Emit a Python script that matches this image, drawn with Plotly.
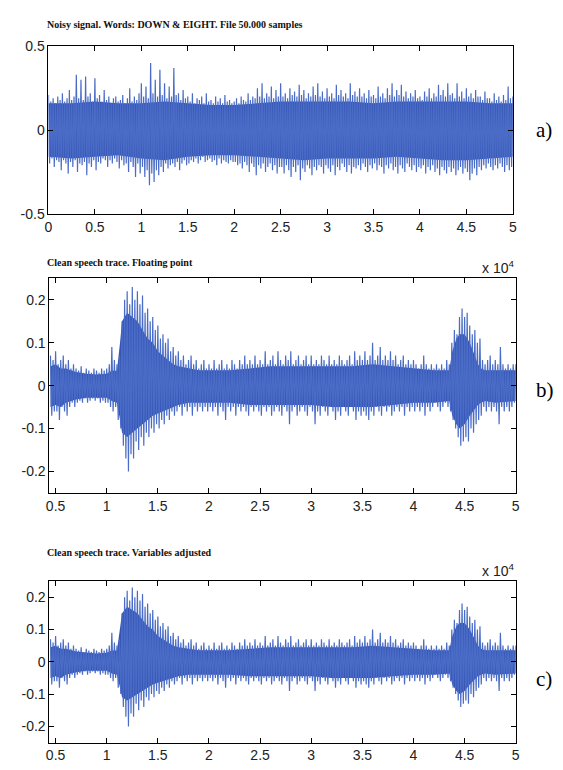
import numpy as np
import plotly.graph_objects as go

# ---------------- data ----------------
# Peak envelopes sampled every 0.025 s; each row of 20 values covers 0.5 s.
STEP = 0.025

# Panel a: noisy signal, t = 0 ... 5
a_start = 0.0
a_upper = (
    [0.21, 0.17, 0.19, 0.16, 0.20, 0.18, 0.22, 0.17, 0.19, 0.24, 0.18, 0.20, 0.33, 0.19, 0.30, 0.18, 0.32, 0.20, 0.22, 0.17] +
    [0.31, 0.19, 0.21, 0.17, 0.24, 0.18, 0.20, 0.16, 0.19, 0.20, 0.17, 0.18, 0.21, 0.16, 0.19, 0.25, 0.17, 0.20, 0.18, 0.22] +
    [0.28, 0.20, 0.26, 0.19, 0.40, 0.22, 0.30, 0.20, 0.36, 0.21, 0.28, 0.19, 0.26, 0.20, 0.37, 0.21, 0.22, 0.18, 0.24, 0.19] +
    [0.20, 0.17, 0.22, 0.16, 0.19, 0.18, 0.20, 0.16, 0.22, 0.17, 0.18, 0.16, 0.20, 0.17, 0.19, 0.16, 0.21, 0.17, 0.18, 0.16] +
    [0.17, 0.19, 0.16, 0.20, 0.18, 0.17, 0.22, 0.18, 0.20, 0.19, 0.25, 0.20, 0.28, 0.19, 0.22, 0.20, 0.26, 0.19, 0.24, 0.20] +
    [0.28, 0.20, 0.22, 0.19, 0.25, 0.21, 0.23, 0.20, 0.27, 0.21, 0.24, 0.19, 0.22, 0.20, 0.26, 0.21, 0.28, 0.20, 0.23, 0.19] +
    [0.25, 0.20, 0.22, 0.19, 0.27, 0.21, 0.24, 0.20, 0.22, 0.19, 0.28, 0.21, 0.23, 0.20, 0.25, 0.20, 0.22, 0.19, 0.24, 0.20] +
    [0.21, 0.19, 0.26, 0.20, 0.22, 0.19, 0.25, 0.21, 0.28, 0.20, 0.24, 0.21, 0.27, 0.20, 0.23, 0.19, 0.22, 0.20, 0.24, 0.19] +
    [0.20, 0.18, 0.23, 0.20, 0.25, 0.19, 0.22, 0.20, 0.27, 0.21, 0.24, 0.20, 0.28, 0.21, 0.22, 0.19, 0.28, 0.20, 0.23, 0.19] +
    [0.25, 0.20, 0.22, 0.19, 0.24, 0.20, 0.20, 0.18, 0.23, 0.19, 0.19, 0.17, 0.22, 0.18, 0.20, 0.17, 0.21, 0.18, 0.26, 0.19] +
    [0.20]
)
a_lower = (
    [-0.20, -0.17, -0.22, -0.18, -0.19, -0.24, -0.18, -0.20, -0.26, -0.19, -0.22, -0.18, -0.25, -0.20, -0.21, -0.19, -0.27, -0.20, -0.22, -0.18] +
    [-0.24, -0.19, -0.20, -0.17, -0.18, -0.22, -0.18, -0.20, -0.17, -0.19, -0.23, -0.18, -0.21, -0.20, -0.25, -0.19, -0.22, -0.28, -0.20, -0.26] +
    [-0.22, -0.28, -0.24, -0.33, -0.26, -0.31, -0.24, -0.27, -0.22, -0.25, -0.20, -0.23, -0.21, -0.20, -0.22, -0.19, -0.24, -0.20, -0.18, -0.21] +
    [-0.20, -0.18, -0.19, -0.17, -0.20, -0.18, -0.16, -0.19, -0.18, -0.17, -0.19, -0.18, -0.21, -0.17, -0.20, -0.18, -0.19, -0.20, -0.18, -0.19] +
    [-0.19, -0.21, -0.20, -0.23, -0.19, -0.21, -0.25, -0.20, -0.22, -0.27, -0.21, -0.23, -0.20, -0.25, -0.22, -0.20, -0.24, -0.21, -0.26, -0.22] +
    [-0.22, -0.26, -0.21, -0.24, -0.28, -0.22, -0.25, -0.21, -0.30, -0.23, -0.25, -0.21, -0.23, -0.27, -0.22, -0.24, -0.21, -0.22, -0.26, -0.21] +
    [-0.23, -0.25, -0.21, -0.27, -0.22, -0.24, -0.20, -0.22, -0.25, -0.21, -0.26, -0.22, -0.23, -0.21, -0.24, -0.20, -0.22, -0.25, -0.21, -0.23] +
    [-0.20, -0.24, -0.21, -0.22, -0.26, -0.21, -0.23, -0.20, -0.24, -0.22, -0.26, -0.21, -0.23, -0.25, -0.20, -0.22, -0.24, -0.21, -0.25, -0.22] +
    [-0.23, -0.21, -0.26, -0.22, -0.24, -0.21, -0.25, -0.23, -0.27, -0.22, -0.24, -0.26, -0.22, -0.25, -0.23, -0.27, -0.24, -0.22, -0.26, -0.23] +
    [-0.25, -0.30, -0.26, -0.23, -0.27, -0.22, -0.24, -0.21, -0.23, -0.20, -0.22, -0.24, -0.21, -0.23, -0.20, -0.22, -0.25, -0.21, -0.24, -0.22] +
    [-0.21]
)
a_core_t = [0, 0.25, 0.5, 0.75, 1.0, 1.25, 1.5, 1.75, 2.0, 2.25, 2.5, 2.75,
            3.0, 3.25, 3.5, 3.75, 4.0, 4.25, 4.5, 4.75, 5.0]
a_core_hi = [0.16, 0.16, 0.17, 0.16, 0.16, 0.17, 0.16, 0.15, 0.15, 0.16, 0.17,
             0.17, 0.17, 0.17, 0.16, 0.17, 0.17, 0.17, 0.17, 0.16, 0.16]
a_core_lo = [-0.16, -0.17, -0.16, -0.15, -0.17, -0.18, -0.16, -0.15, -0.15, -0.16, -0.17,
             -0.18, -0.17, -0.17, -0.17, -0.16, -0.17, -0.18, -0.18, -0.17, -0.16]

# Panel b: clean speech trace (time axis x 10^4 samples), t = 0.45 ... 5
b_start = 0.45
b_upper = (
    [0.07, 0.06] +
    [0.08, 0.05, 0.06, 0.07, 0.05, 0.06, 0.04, 0.05, 0.04, 0.035, 0.045, 0.03, 0.04, 0.035, 0.03, 0.04, 0.035, 0.03, 0.04, 0.035] +
    [0.04, 0.05, 0.09, 0.06, 0.05, 0.07, 0.15, 0.20, 0.22, 0.19, 0.23, 0.20, 0.22, 0.19, 0.21, 0.17, 0.18, 0.15, 0.16, 0.13] +
    [0.14, 0.11, 0.12, 0.10, 0.11, 0.08, 0.09, 0.07, 0.08, 0.06, 0.07, 0.05, 0.06, 0.07, 0.05, 0.06, 0.04, 0.05, 0.06, 0.04] +
    [0.05, 0.04, 0.06, 0.04, 0.05, 0.06, 0.04, 0.05, 0.04, 0.06, 0.05, 0.04, 0.06, 0.05, 0.07, 0.05, 0.06, 0.05, 0.07, 0.05] +
    [0.06, 0.05, 0.08, 0.05, 0.06, 0.07, 0.05, 0.08, 0.06, 0.05, 0.07, 0.06, 0.08, 0.05, 0.06, 0.07, 0.05, 0.06, 0.07, 0.05] +
    [0.07, 0.05, 0.06, 0.05, 0.07, 0.06, 0.05, 0.07, 0.05, 0.06, 0.05, 0.07, 0.06, 0.05, 0.06, 0.07, 0.05, 0.08, 0.06, 0.07] +
    [0.06, 0.08, 0.06, 0.07, 0.10, 0.06, 0.07, 0.09, 0.06, 0.07, 0.06, 0.08, 0.06, 0.07, 0.05, 0.06, 0.07, 0.05, 0.06, 0.05] +
    [0.06, 0.05, 0.04, 0.05, 0.07, 0.05, 0.04, 0.05, 0.04, 0.05, 0.04, 0.05, 0.04, 0.06, 0.05, 0.10, 0.13, 0.12, 0.16, 0.18] +
    [0.16, 0.17, 0.14, 0.12, 0.13, 0.10, 0.11, 0.06, 0.05, 0.06, 0.07, 0.05, 0.06, 0.05, 0.09, 0.05, 0.04, 0.05, 0.04, 0.05] +
    [0.05]
)
b_lower = (
    [-0.07, -0.06] +
    [-0.06, -0.08, -0.05, -0.06, -0.07, -0.05, -0.04, -0.05, -0.04, -0.035, -0.04, -0.03, -0.04, -0.035, -0.03, -0.035, -0.03, -0.04, -0.035, -0.04] +
    [-0.04, -0.05, -0.06, -0.05, -0.08, -0.10, -0.14, -0.17, -0.20, -0.16, -0.17, -0.13, -0.15, -0.12, -0.14, -0.11, -0.12, -0.10, -0.11, -0.09] +
    [-0.10, -0.08, -0.09, -0.07, -0.08, -0.06, -0.07, -0.06, -0.05, -0.07, -0.05, -0.06, -0.05, -0.07, -0.05, -0.06, -0.05, -0.06, -0.05, -0.06] +
    [-0.05, -0.06, -0.05, -0.07, -0.05, -0.06, -0.08, -0.05, -0.06, -0.05, -0.07, -0.05, -0.06, -0.05, -0.06, -0.07, -0.05, -0.06, -0.05, -0.06] +
    [-0.07, -0.05, -0.06, -0.05, -0.07, -0.06, -0.05, -0.06, -0.07, -0.05, -0.06, -0.09, -0.06, -0.05, -0.07, -0.06, -0.05, -0.06, -0.07, -0.05] +
    [-0.06, -0.09, -0.06, -0.07, -0.05, -0.06, -0.07, -0.05, -0.06, -0.08, -0.06, -0.07, -0.05, -0.06, -0.07, -0.05, -0.06, -0.08, -0.06, -0.07] +
    [-0.06, -0.07, -0.08, -0.06, -0.07, -0.05, -0.06, -0.07, -0.05, -0.06, -0.05, -0.07, -0.06, -0.05, -0.06, -0.05, -0.07, -0.05, -0.06, -0.05] +
    [-0.06, -0.05, -0.06, -0.05, -0.07, -0.05, -0.06, -0.05, -0.04, -0.05, -0.06, -0.05, -0.04, -0.05, -0.06, -0.08, -0.10, -0.12, -0.14, -0.13] +
    [-0.12, -0.13, -0.10, -0.11, -0.09, -0.08, -0.07, -0.05, -0.06, -0.05, -0.06, -0.05, -0.06, -0.09, -0.05, -0.06, -0.05, -0.06, -0.05, -0.04] +
    [-0.05]
)
b_core_t = [0.45, 0.5, 0.55, 0.6, 0.7, 0.8, 0.9, 1.0,
            1.05, 1.1, 1.13, 1.15, 1.2, 1.25, 1.3, 1.35, 1.4, 1.45, 1.5,
            1.55, 1.6, 1.65, 1.7, 1.8, 1.9, 2.0,
            2.2, 2.4, 2.6, 2.8, 3.0, 3.2, 3.4, 3.6, 3.8, 4.0, 4.2,
            4.35, 4.38, 4.42, 4.45, 4.5, 4.55, 4.6, 4.63, 4.66, 4.7, 4.8, 5.0]
b_core_hi = [0.045, 0.05, 0.04, 0.04, 0.032, 0.028, 0.026, 0.028,
             0.035, 0.035, 0.10, 0.15, 0.17, 0.16, 0.15, 0.13, 0.11, 0.10, 0.08,
             0.07, 0.06, 0.05, 0.045, 0.04, 0.036, 0.036,
             0.036, 0.04, 0.045, 0.045, 0.045, 0.045, 0.045, 0.05, 0.045, 0.04, 0.036,
             0.036, 0.08, 0.11, 0.12, 0.12, 0.10, 0.07, 0.05, 0.04, 0.036, 0.036, 0.036]
b_core_lo = [-0.05, -0.045, -0.05, -0.04, -0.032, -0.028, -0.028, -0.028,
             -0.036, -0.04, -0.08, -0.11, -0.12, -0.11, -0.10, -0.09, -0.08, -0.07, -0.065,
             -0.06, -0.055, -0.05, -0.045, -0.04, -0.04, -0.04,
             -0.04, -0.045, -0.045, -0.045, -0.045, -0.05, -0.05, -0.05, -0.045, -0.04, -0.04,
             -0.036, -0.07, -0.09, -0.10, -0.09, -0.07, -0.055, -0.045, -0.04, -0.036, -0.04, -0.036]

# Panel c: same speech trace, variables adjusted
c_start = b_start
c_upper = list(b_upper)
c_lower = list(b_lower)
c_core_t = list(b_core_t)
c_core_hi = list(b_core_hi)
c_core_lo = list(b_core_lo)

titles = ["Noisy signal. Words: DOWN & EIGHT. File 50.000 samples",
          "Clean speech trace. Floating point",
          "Clean speech trace. Variables adjusted"]
panel_labels = ["a)", "b)", "c)"]
a_xticks = [0, 0.5, 1, 1.5, 2, 2.5, 3, 3.5, 4, 4.5, 5]
a_xticklabels = ["0", "0.5", "1", "1.5", "2", "2.5", "3", "3.5", "4", "4.5", "5"]
bc_xticks = [0.5, 1, 1.5, 2, 2.5, 3, 3.5, 4, 4.5, 5]
bc_xticklabels = ["0.5", "1", "1.5", "2", "2.5", "3", "3.5", "4", "4.5", "5"]
a_yticks = [-0.5, 0, 0.5]
a_yticklabels = ["-0.5", "0", "0.5"]
bc_yticks = [-0.2, -0.1, 0, 0.1, 0.2]
bc_yticklabels = ["-0.2", "-0.1", "0", "0.1", "0.2"]

# ---------------- figure ----------------
W, H = 563, 770
CORE = "#3555b5"
LINE = "#4a6cc6"

fig = go.Figure()


def add_panel(idx, start, upper, lower, ct, chi, clo):
    xa = "x" if idx == 1 else f"x{idx}"
    ya = "y" if idx == 1 else f"y{idx}"
    fig.add_trace(go.Scatter(x=ct, y=chi, mode="lines", line=dict(color=CORE, width=0),
                             xaxis=xa, yaxis=ya, showlegend=False, hoverinfo="skip"))
    fig.add_trace(go.Scatter(x=ct, y=clo, mode="lines", line=dict(color=CORE, width=0),
                             fill="tonexty", fillcolor=CORE,
                             xaxis=xa, yaxis=ya, showlegend=False, hoverinfo="skip"))
    n = len(upper)
    tu = start + STEP * np.arange(n)
    tl = tu + STEP / 2
    xs, ys = [], []
    for i in range(n):
        xs += [tu[i], tl[i]]
        ys += [upper[i], lower[i]]
    fig.add_trace(go.Scatter(x=xs, y=ys, mode="lines", line=dict(color=LINE, width=1.2),
                             xaxis=xa, yaxis=ya, showlegend=False, hoverinfo="skip"))


add_panel(1, a_start, a_upper, a_lower, a_core_t, a_core_hi, a_core_lo)
add_panel(2, b_start, b_upper, b_lower, b_core_t, b_core_hi, b_core_lo)
add_panel(3, c_start, c_upper, c_lower, c_core_t, c_core_hi, c_core_lo)

tickfont = dict(family="Liberation Sans Narrow, Liberation Sans, Arial", size=14, color="#222")

# pixel boxes: (left, right, top, bottom)
boxes = [(37, 508, 31, 202), (38, 511, 268, 487), (38, 511, 577, 742)]


def dom_x(b):
    return [b[0] / W, b[1] / W]


def dom_y(b):
    return [1 - b[3] / H, 1 - b[2] / H]


common = dict(showline=True, linecolor="black", linewidth=1, mirror="ticks",
              ticks="inside", ticklen=5, tickcolor="black", showgrid=False,
              zeroline=False, tickfont=tickfont)

axes = {}
xr = [[0.0, 5.0], [0.44, 5.0], [0.44, 5.0]]
yr = [[-0.5, 0.5], [-0.25, 0.25], [-0.25, 0.25]]
xt = [(a_xticks, a_xticklabels), (bc_xticks, bc_xticklabels), (bc_xticks, bc_xticklabels)]
yt = [(a_yticks, a_yticklabels), (bc_yticks, bc_yticklabels), (bc_yticks, bc_yticklabels)]
for i in range(3):
    k = "" if i == 0 else str(i + 1)
    axes["xaxis" + k] = dict(common, domain=dom_x(boxes[i]), range=xr[i],
                             anchor="y" + k, tickvals=xt[i][0], ticktext=xt[i][1])
    axes["yaxis" + k] = dict(common, domain=dom_y(boxes[i]), range=yr[i],
                             anchor="x" + k, tickvals=yt[i][0], ticktext=yt[i][1])

annotations = []
title_y = [9, 252, 548]
for i in range(3):
    annotations.append(dict(text="<b>" + titles[i] + "</b>", xref="paper", yref="paper",
                            x=33 / W, y=1 - title_y[i] / H, xanchor="left", yanchor="middle",
                            showarrow=False,
                            font=dict(family="Liberation Serif, Times New Roman", size=10, color="#111")))
label_y = [116, 382, 677]
for i in range(3):
    annotations.append(dict(text=panel_labels[i], xref="paper", yref="paper",
                            x=530 / W, y=1 - label_y[i] / H, xanchor="left", yanchor="middle",
                            showarrow=False,
                            font=dict(family="Liberation Serif, Times New Roman", size=21, color="black")))
for i in (1, 2):
    annotations.append(dict(text="x 10<sup>4</sup>", xref="paper", yref="paper",
                            x=boxes[i][1] / W, y=1 - boxes[i][2] / H, xanchor="right", yanchor="bottom",
                            showarrow=False, font=tickfont))

fig.update_layout(width=W, height=H, autosize=False, margin=dict(l=0, r=0, t=0, b=0),
                  paper_bgcolor="white", plot_bgcolor="white", annotations=annotations,
                  **axes)

fig.write_html("out.html")
